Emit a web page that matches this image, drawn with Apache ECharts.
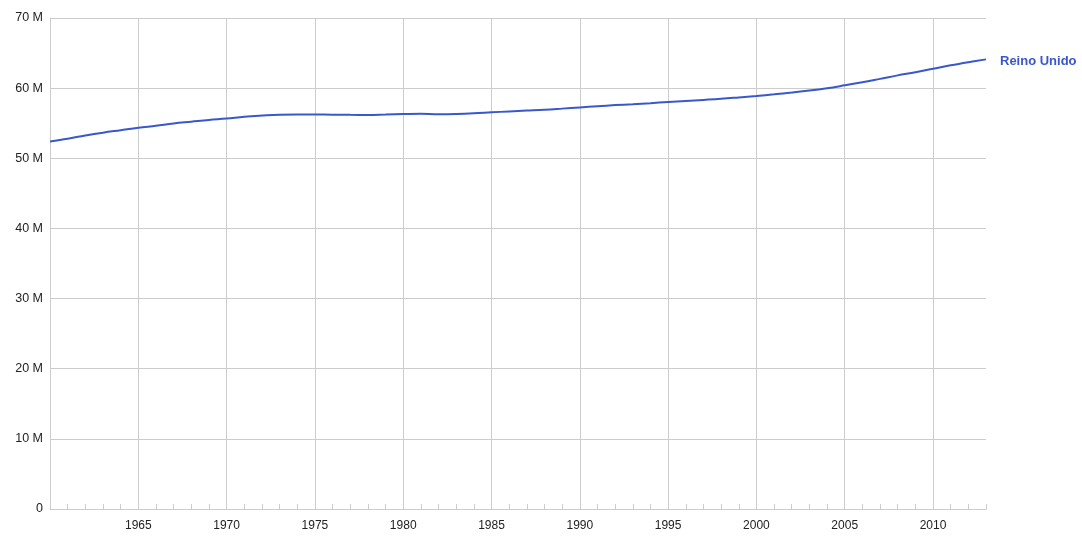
<!DOCTYPE html>
<html>
<head>
<meta charset="utf-8">
<script src="https://cdn.jsdelivr.net/npm/echarts@6/dist/echarts.min.js"></script>
<style>html,body{margin:0;padding:0;background:#fff}#c{width:1082px;height:536px}</style>
</head>
<body>
<div id="c"></div>
<script>
const seriesName = "Reino Unido";
const years = [1960,1961,1962,1963,1964,1965,1966,1967,1968,1969,1970,1971,1972,1973,1974,1975,1976,1977,1978,1979,1980,1981,1982,1983,1984,1985,1986,1987,1988,1989,1990,1991,1992,1993,1994,1995,1996,1997,1998,1999,2000,2001,2002,2003,2004,2005,2006,2007,2008,2009,2010,2011,2012,2013];
const population = [52.40,52.80,53.25,53.65,54.00,54.35,54.64,54.96,55.21,55.46,55.66,55.93,56.10,56.22,56.24,56.23,56.22,56.19,56.18,56.24,56.31,56.36,56.29,56.32,56.41,56.55,56.68,56.80,56.92,57.08,57.25,57.42,57.58,57.71,57.86,58.02,58.17,58.32,58.48,58.68,58.89,59.12,59.37,59.65,59.99,60.40,60.83,61.32,61.82,62.26,62.76,63.26,63.70,64.10].map(v => v * 1e6);
const yTicks = [0,10e6,20e6,30e6,40e6,50e6,60e6,70e6];

const font = 'Liberation Sans, Arial, sans-serif';
const lineColor = '#3858cc';
const chart = echarts.init(document.getElementById('c'));
chart.setOption({
  animation: false,
  grid: {left: 50, right: 96, top: 18, bottom: 27, containLabel: false},
  xAxis: [{
    type: 'value', min: 1960, max: 2013, interval: 5,
    axisLine: {show: true, lineStyle: {color: '#cccccc', width: 1}},
    axisTick: {show: false},
    axisLabel: {show: true, showMinLabel: false, showMaxLabel: false, color: '#222', fontSize: 12, fontFamily: font, margin: 11,
      formatter: v => (v % 5 === 0 && v !== 1960) ? String(v) : ''},
    splitLine: {show: true, showMinLine: false, showMaxLine: false, lineStyle: {color: '#cccccc', width: 1}}
  }, {
    type: 'value', min: 1960, max: 2013, interval: 1, position: 'bottom',
    axisLine: {show: false},
    axisTick: {show: true, inside: true, length: 5, lineStyle: {color: '#cccccc'}},
    axisLabel: {show: false},
    splitLine: {show: false}
  }],
  yAxis: {
    type: 'value', min: 0, max: 70e6, interval: 10e6,
    axisLine: {show: true, lineStyle: {color: '#cccccc', width: 1}},
    axisTick: {show: false},
    axisLabel: {color: '#222', fontSize: 12.5, fontFamily: font, margin: 7, padding: [3, 0, 0, 0],
      formatter: v => v === 0 ? '0' : (v / 1e6) + ' M'},
    splitLine: {show: true, lineStyle: {color: '#cccccc', width: 1}}
  },
  series: [{
    name: seriesName, type: 'line', smooth: 0.4, showSymbol: false, symbol: 'none',
    xAxisIndex: 0,
    data: years.map((y, i) => [y, population[i]]),
    lineStyle: {color: lineColor, width: 2},
    itemStyle: {color: lineColor},
    endLabel: {show: true, formatter: () => seriesName, color: '#3b55d0', fontWeight: 'bold', fontSize: 13, fontFamily: font, distance: 14, offset: [0, 2]}
  }]
});
</script>
</body>
</html>
